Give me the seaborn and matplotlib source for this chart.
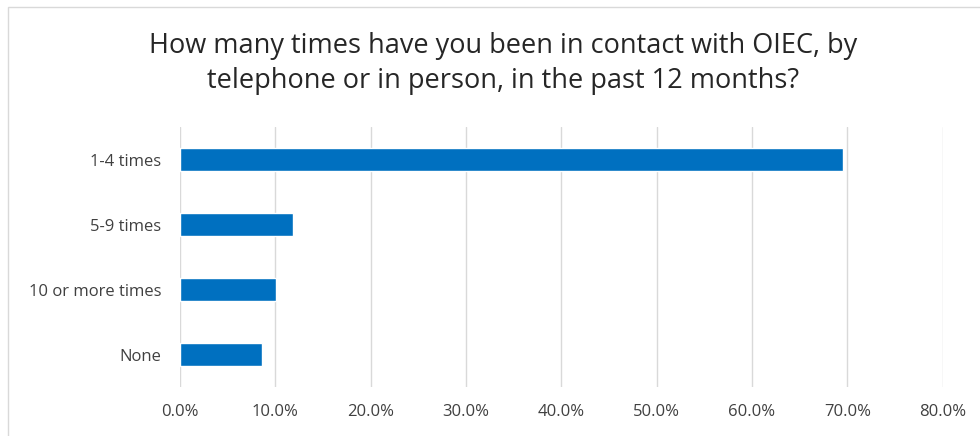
import matplotlib
matplotlib.use("Agg")
import matplotlib.pyplot as plt
import seaborn as sns
import pandas as pd
from matplotlib.patches import Rectangle
from matplotlib.ticker import FuncFormatter, MultipleLocator

categories = ["1-4 times", "5-9 times", "10 or more times", "None"]
shares = [0.695, 0.119, 0.101, 0.086]
title = "How many times have you been in contact with OIEC, by\ntelephone or in person, in the past 12 months?"

df = pd.DataFrame({"category": categories, "share": shares})

sns.set_theme(style="white")
plt.rcParams["font.family"] = ["Open Sans", "DejaVu Sans"]

fig = plt.figure(figsize=(9.8, 4.36), dpi=100)
ax = fig.add_axes([180 / 980, 1 - 387 / 436, (942.6 - 180) / 980, 260 / 436])

sns.barplot(data=df, x="share", y="category", order=categories,
            color="#0070C0", saturation=1, width=0.35, ax=ax, zorder=3)

ax.set_xlim(0, 0.8)
ax.set_ylim(3.5, -0.5)
ax.xaxis.set_major_locator(MultipleLocator(0.1))
ax.xaxis.set_major_formatter(FuncFormatter(lambda v, _: f"{v * 100:.1f}%"))
ax.grid(axis="x", color="#D9D9D9", linewidth=1, zorder=0)
ax.grid(axis="y", visible=False)
for s in ax.spines.values():
    s.set_visible(False)
ax.set_xlabel("")
ax.set_ylabel("")
ax.tick_params(axis="both", length=0, labelsize=12, labelcolor="#404040")
ax.tick_params(axis="x", pad=12)
ax.tick_params(axis="y", pad=13.5)

fig.text(503 / 980, 1 - 63.5 / 436, title, ha="center", va="center",
         fontsize=19.5, color="#262626", linespacing=1.38)

# chart frame
fig.add_artist(Rectangle((8 / 980, -0.1), 1.2, 1 - 7 / 436 + 0.1,
                         transform=fig.transFigure, fill=False,
                         edgecolor="#D9D9D9", linewidth=1))

fig.savefig("out.png", dpi=100)
